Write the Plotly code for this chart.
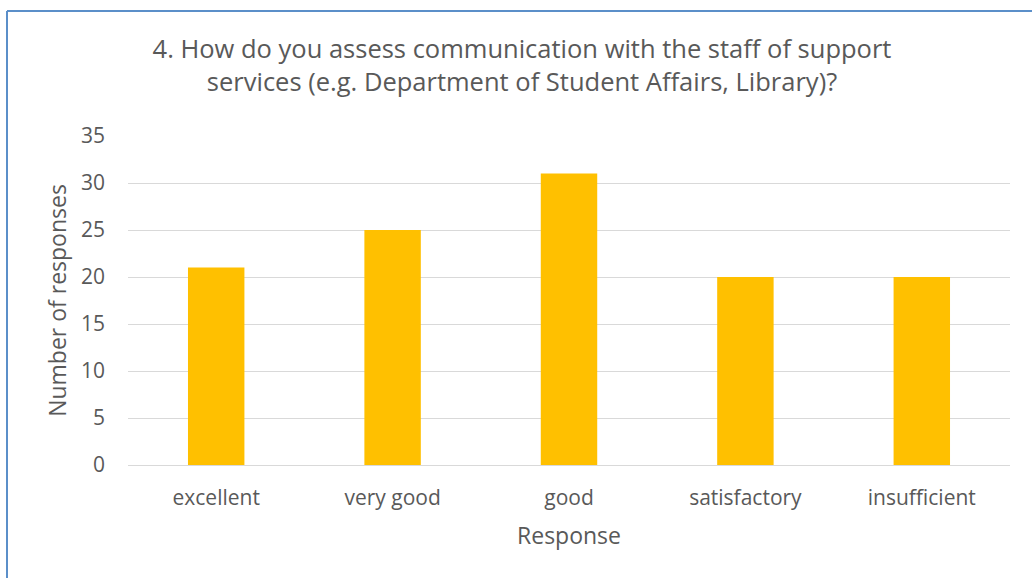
import plotly.graph_objects as go

categories = ["excellent", "very good", "good", "satisfactory", "insufficient"]
values = [21, 25, 31, 20, 20]
y_ticks = [0, 5, 10, 15, 20, 25, 30, 35]

W, H = 1032, 578
L, R, T, B = 128, 22, 136, 113
pw = W - L - R
ph = H - T - B

def px_x(px):
    return (px - L) / pw

def px_y(py):
    return (H - B - py) / ph

fig = go.Figure(go.Bar(x=categories, y=values, marker=dict(color="#FFC000", line=dict(width=0)), width=0.32))

font = "Open Sans, Noto Sans, sans-serif"
gray = "#595959"

fig.update_layout(
    width=W, height=H,
    margin=dict(l=L, r=R, t=T, b=B),
    paper_bgcolor="white", plot_bgcolor="white",
    showlegend=False,
    title=dict(
        text="4. How do you assess communication with the staff of support<br>services (e.g. Department of Student Affairs, Library)?",
        x=522 / W, xanchor="center", xref="container",
        y=1 - 58 / H, yanchor="middle", yref="container",
        font=dict(family=font, size=25.5, color=gray),
    ),
    font=dict(family=font, color=gray),
    xaxis=dict(
        tickfont=dict(size=21, color=gray),
        title=dict(text="Response", font=dict(size=23, color=gray), standoff=17),
        showline=False, showgrid=False, ticks="", ticklabelstandoff=18,
    ),
    yaxis=dict(
        range=[0, 35], tickvals=y_ticks,
        tickfont=dict(size=21, color=gray),
        title=dict(text="Number of responses", font=dict(size=23, color=gray), standoff=7),
        showgrid=True, gridcolor="#d9d9d9", gridwidth=1,
        zeroline=True, zerolinecolor="#d9d9d9", zerolinewidth=1,
        showline=False, ticks="", ticklabelstandoff=22,
    ),
    shapes=[
        dict(type="line", xref="paper", yref="paper",
             x0=px_x(7), x1=px_x(W + 5), y0=px_y(11), y1=px_y(11),
             line=dict(color="#5b8fc9", width=2)),
        dict(type="line", xref="paper", yref="paper",
             x0=px_x(7), x1=px_x(7), y0=px_y(11), y1=px_y(H + 5),
             line=dict(color="#5b8fc9", width=2)),
    ],
)

fig.write_html("out.html", config={"displayModeBar": False},
               post_script="document.body.style.margin='0';document.body.style.overflow='hidden';")
